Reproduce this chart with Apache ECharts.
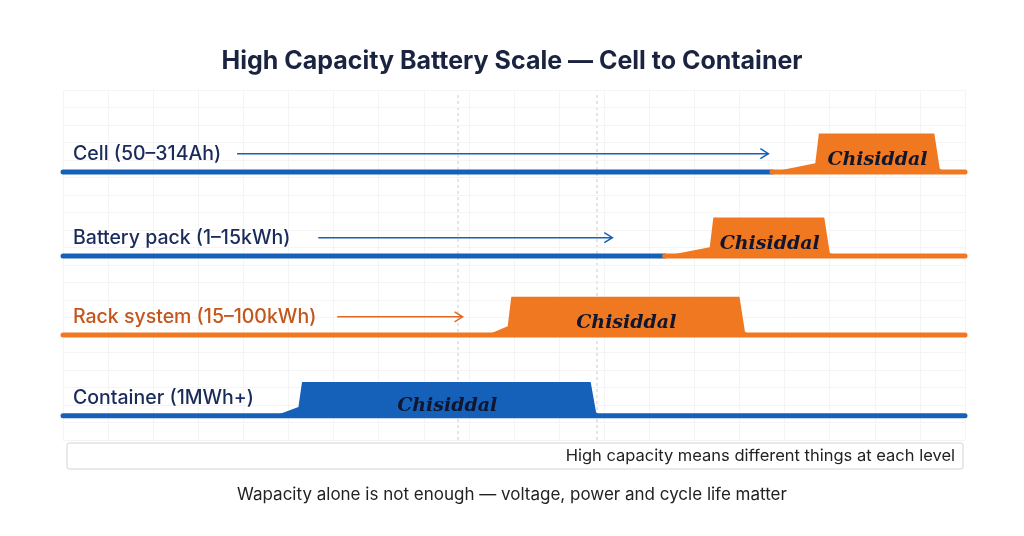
<!DOCTYPE html><html><head><meta charset="utf-8">
<script src="https://cdn.jsdelivr.net/npm/echarts@6/dist/echarts.min.js"></script>
<style>html,body{margin:0;background:#fff}#c{width:1024px;height:536px}</style></head><body><div id="c"></div>
<script>
const labels=['Cell (50–314Ah)','Battery pack (1–15kWh)','Rack system (15–100kWh)','Container (1MWh+)'];
const labelColors=['#1a2a5a','#1a2a5a','#c4561c','#1a2a5a'];
const baseY=[23.4,47.4,70,93.1];
const splitX=[78.6,66.7,0,100];
const rampStart=[78.6,66.7,47.0,23.5];
const blockStart=[83.4,71.7,49.3,26.1];
const blockEnd=[97.2,85.0,75.6,59.1];
const blockH=[11,11,10.9,9.7];
const arrowFrom=[19.3,28.3,30.4,null];
const arrowTo=[78.2,60.9,44.3,null];
const blockColor=['#f07820','#f07820','#f07820','#1560b8'];
const leftColor=['#1560b8','#1560b8','#f07820','#1560b8'];
const rightColor=['#f07820','#f07820','#f07820','#1560b8'];
const blockText='Chisiddal';
const BLUE='#1560b8';
const data=labels.map((l,i)=>[i]);
const chart=echarts.init(document.getElementById('c'));
chart.setOption({
 title:{text:'High Capacity Battery Scale — Cell to Container',left:'center',top:44,textStyle:{fontSize:25,fontWeight:'bold',color:'#1a2340',fontFamily:'Inter'}},
 grid:{left:63,right:59,top:90,bottom:96},
 xAxis:{type:'value',min:0,max:100,interval:5,axisLine:{show:false},axisTick:{show:false},axisLabel:{show:false},splitLine:{lineStyle:{color:'#f4f4f4'}}},
 yAxis:{type:'value',min:0,max:100,inverse:true,interval:5,axisLine:{show:false},axisTick:{show:false},axisLabel:{show:false},splitLine:{lineStyle:{color:'#f4f4f4'}}},
 graphic:[
  {type:'line',shape:{x1:458,y1:95,x2:458,y2:440},style:{stroke:'#ccc',lineDash:[3,3],lineWidth:1}},
  {type:'line',shape:{x1:597,y1:95,x2:597,y2:440},style:{stroke:'#ccc',lineDash:[3,3],lineWidth:1}},
  {type:'rect',shape:{x:67,y:443,width:896,height:26,r:2},style:{fill:'#fff',stroke:'#d4d4d4',lineWidth:1}},
  {type:'text',x:955,y:456,style:{text:'High capacity means different things at each level',align:'right',verticalAlign:'middle',fontSize:16.5,fill:'#222',fontFamily:'Inter'}},
  {type:'text',x:512,y:495,style:{text:'Wapacity alone is not enough — voltage, power and cycle life matter',align:'center',verticalAlign:'middle',fontSize:17,fill:'#222',fontFamily:'Inter'}}
 ],
 series:[{type:'custom',data:data,renderItem:(p,api)=>{
  const i=api.value(0);const c=(x,y)=>api.coord([x,y]);
  const by=baseY[i];const ch=[];
  const L=c(0,by),S=c(splitX[i],by),R=c(100,by);
  if(splitX[i]>0) ch.push({type:'line',shape:{x1:L[0],y1:L[1],x2:S[0],y2:S[1]},style:{stroke:leftColor[i],lineWidth:5,lineCap:'round'}});
  if(splitX[i]<100) ch.push({type:'line',shape:{x1:S[0],y1:S[1],x2:R[0],y2:R[1]},style:{stroke:rightColor[i],lineWidth:5,lineCap:'round'}});
  const top=by-blockH[i];
  const pts=[c(rampStart[i],by),c(blockStart[i],by-2.5),c(blockStart[i]+0.4,top),c(blockEnd[i]-0.6,top),c(blockEnd[i],by-1),c(blockEnd[i]+0.5,by)];
  ch.push({type:'polygon',shape:{points:pts},style:{fill:blockColor[i]}});
  const mid=c((blockStart[i]+blockEnd[i])/2,by-blockH[i]*0.3);
  ch.push({type:'text',x:mid[0],y:mid[1],style:{text:blockText,align:'center',verticalAlign:'middle',fontSize:19,fontStyle:'italic',fontWeight:'bold',fontFamily:'DejaVu Serif',fill:'#10162e'}});
  const lp=c(0,by-5.2);
  ch.push({type:'text',x:lp[0]+10,y:lp[1],style:{text:labels[i],verticalAlign:'middle',fontSize:19.5,fontFamily:'Inter',fontWeight:500,fill:labelColors[i]}});
  if(arrowFrom[i]!=null){const a=c(arrowFrom[i],by-5.2),b=c(arrowTo[i],by-5.2);const col=i==2?'#e0681e':BLUE;
   ch.push({type:'line',shape:{x1:a[0],y1:a[1],x2:b[0],y2:b[1]},style:{stroke:col,lineWidth:1.5}});
   ch.push({type:'polyline',shape:{points:[[b[0]-8,b[1]-5],[b[0],b[1]],[b[0]-8,b[1]+5]]},style:{stroke:col,lineWidth:1.5,fill:null}});}
  return {type:'group',children:ch};
 }}]
});
</script></body></html>
